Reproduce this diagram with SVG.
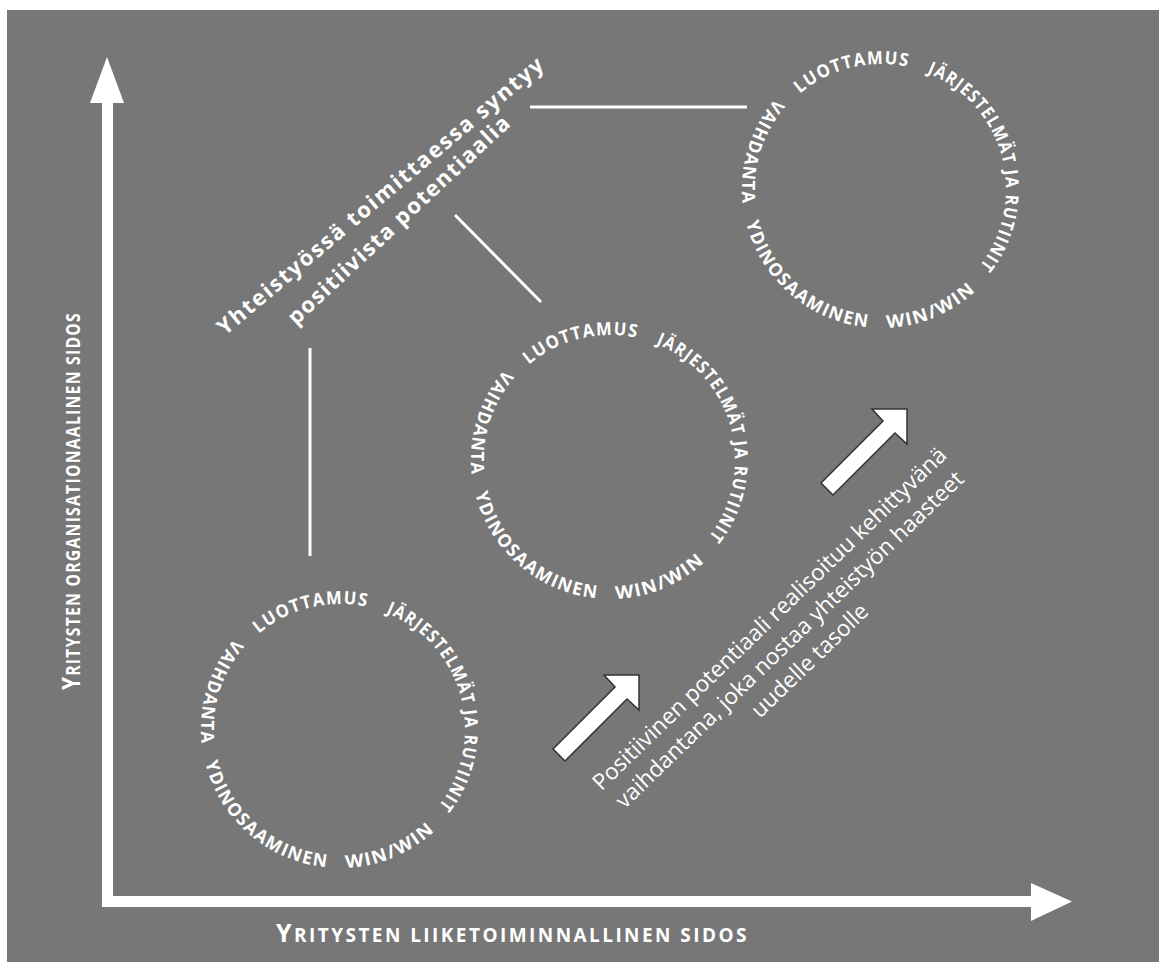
<svg xmlns="http://www.w3.org/2000/svg" width="1169" height="971" viewBox="0 0 1169 971">
<style>
.bg{fill:#777777}
.ax{fill:#ffffff}
.ring{font-family:"Open Sans","Liberation Sans",sans-serif;font-weight:700;font-size:18px;letter-spacing:1.5px;fill:#ffffff;text-anchor:middle}
.title{font-family:"Open Sans","Liberation Sans",sans-serif;font-weight:700;font-size:22px;letter-spacing:1.8px;fill:#ffffff}
.note{font-family:"Open Sans","Liberation Sans",sans-serif;font-weight:400;font-size:22.5px;fill:#ffffff;text-anchor:middle}
.axl{font-family:"Open Sans","Liberation Sans",sans-serif;font-weight:700;fill:#ffffff;text-anchor:middle;letter-spacing:1.5px}
.big{font-size:25px}
.sm{font-size:19px}
.con{stroke:#ffffff;stroke-width:3;fill:none}
.barrow{fill:#ffffff;stroke:#333333;stroke-width:1.5;stroke-linejoin:miter}
</style>
<defs>
<path id="cw" d="M -125 0 A 125 125 0 1 1 125 0 A 125 125 0 1 1 -125 0"/>
<path id="ccw" d="M 0 -139 A 139 139 0 1 0 0 139 A 139 139 0 1 0 0 -139"/>
<polygon id="blockArrow" points="0,0 -35,0 -24,12 -86,74 -74,86 -12,24 0,35"/>
</defs>
<rect class="bg" x="7" y="10" width="1152" height="952"/>

<g id="axes">
<rect class="ax" x="102" y="100" width="11" height="807"/>
<polygon class="ax" points="107,57 90,103 124,103"/>
<rect class="ax" x="102" y="896" width="932" height="11"/>
<polygon class="ax" points="1072,901.5 1031,883 1031,921"/>
</g>

<g id="xlabel">
<text class="axl" x="512" y="942" textLength="472" lengthAdjust="spacing"><tspan class="big">Y</tspan><tspan class="sm">RITYSTEN LIIKETOIMINNALLINEN SIDOS</tspan></text>
</g>
<g id="ylabel">
<text class="axl" transform="translate(80,501) rotate(-90)" textLength="378" lengthAdjust="spacingAndGlyphs"><tspan class="big">Y</tspan><tspan class="sm">RITYSTEN ORGANISATIONAALINEN SIDOS</tspan></text>
</g>

<g id="connectors">
<line class="con" x1="310" y1="348" x2="310" y2="556"/>
<line class="con" x1="455" y1="215" x2="541" y2="302"/>
<line class="con" x1="530" y1="107" x2="747" y2="107"/>
</g>

<g id="title">
<text class="title" transform="translate(225,336) rotate(-40)">Yhteistyössä toimittaessa syntyy</text>
<text class="title" transform="translate(296,326) rotate(-43)" style="letter-spacing:1.4px">positiivista potentiaalia</text>
</g>

<g id="circle1" transform="translate(340,729)">
<text class="ring"><textPath href="#cw" startOffset="166" textLength="116" lengthAdjust="spacingAndGlyphs">LUOTTAMUS</textPath></text>
<text class="ring"><textPath href="#cw" startOffset="360" textLength="233" lengthAdjust="spacingAndGlyphs">JÄRJESTELMÄT JA RUTIINIT</textPath></text>
<text class="ring"><textPath href="#ccw" startOffset="177" textLength="114" lengthAdjust="spacingAndGlyphs">VAIHDANTA</textPath></text>
<text class="ring"><textPath href="#ccw" startOffset="338" textLength="172" lengthAdjust="spacingAndGlyphs">YDINOSAAMINEN</textPath></text>
<text class="ring"><textPath href="#ccw" startOffset="492" textLength="99" lengthAdjust="spacingAndGlyphs">WIN/WIN</textPath></text>
</g>
<g id="circle2" transform="translate(610,460)">
<text class="ring"><textPath href="#cw" startOffset="166" textLength="116" lengthAdjust="spacingAndGlyphs">LUOTTAMUS</textPath></text>
<text class="ring"><textPath href="#cw" startOffset="360" textLength="233" lengthAdjust="spacingAndGlyphs">JÄRJESTELMÄT JA RUTIINIT</textPath></text>
<text class="ring"><textPath href="#ccw" startOffset="177" textLength="114" lengthAdjust="spacingAndGlyphs">VAIHDANTA</textPath></text>
<text class="ring"><textPath href="#ccw" startOffset="338" textLength="172" lengthAdjust="spacingAndGlyphs">YDINOSAAMINEN</textPath></text>
<text class="ring"><textPath href="#ccw" startOffset="492" textLength="99" lengthAdjust="spacingAndGlyphs">WIN/WIN</textPath></text>
</g>
<g id="circle3" transform="translate(881,189)">
<text class="ring"><textPath href="#cw" startOffset="166" textLength="116" lengthAdjust="spacingAndGlyphs">LUOTTAMUS</textPath></text>
<text class="ring"><textPath href="#cw" startOffset="360" textLength="233" lengthAdjust="spacingAndGlyphs">JÄRJESTELMÄT JA RUTIINIT</textPath></text>
<text class="ring"><textPath href="#ccw" startOffset="177" textLength="114" lengthAdjust="spacingAndGlyphs">VAIHDANTA</textPath></text>
<text class="ring"><textPath href="#ccw" startOffset="338" textLength="172" lengthAdjust="spacingAndGlyphs">YDINOSAAMINEN</textPath></text>
<text class="ring"><textPath href="#ccw" startOffset="492" textLength="99" lengthAdjust="spacingAndGlyphs">WIN/WIN</textPath></text>
</g>

<g id="arrow1" transform="translate(639,675)">
<use href="#blockArrow" class="barrow"/>
</g>
<g id="arrow2" transform="translate(907,409)">
<use href="#blockArrow" class="barrow"/>
</g>

<g id="note" transform="translate(790,640) rotate(-44)">
<text class="note" x="0" y="-22">Positiivinen potentiaali realisoituu kehittyvänä</text>
<text class="note" x="0" y="7">vaihdantana, joka nostaa yhteistyön haasteet</text>
<text class="note" x="0" y="36">uudelle tasolle</text>
</g>
</svg>
